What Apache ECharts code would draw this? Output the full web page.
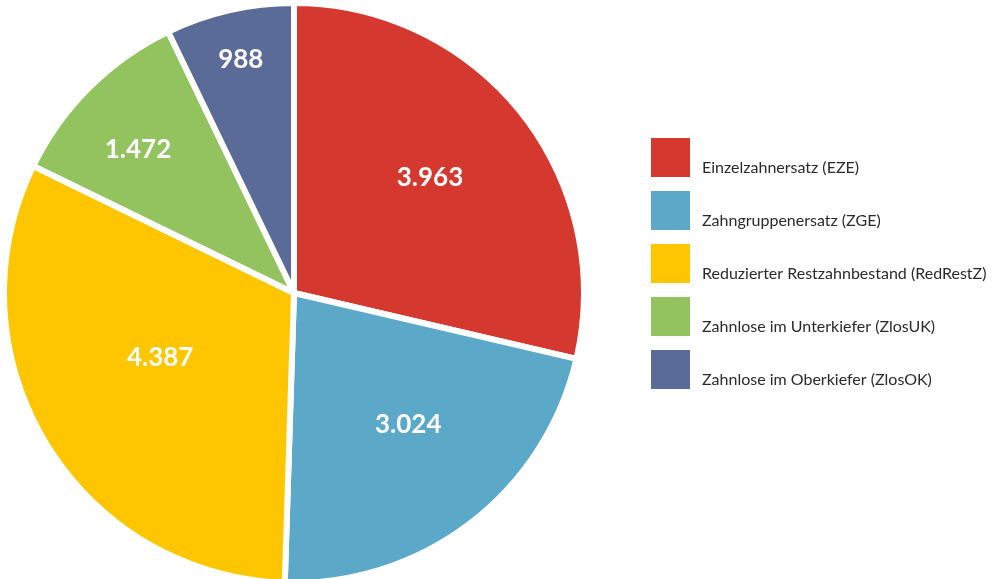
<!DOCTYPE html>
<html>
<head>
<meta charset="utf-8">
<style>
  html, body { margin: 0; padding: 0; background: #ffffff; }
  #chart { width: 997px; height: 579px; }
</style>
<script src="https://cdn.jsdelivr.net/npm/echarts@6/dist/echarts.min.js"></script>
</head>
<body>
<div id="chart"></div>
<script>
// Versorgungsgruppen und Fallzahlen
const categories = [
  'Einzelzahnersatz (EZE)',
  'Zahngruppenersatz (ZGE)',
  'Reduzierter Restzahnbestand (RedRestZ)',
  'Zahnlose im Unterkiefer (ZlosUK)',
  'Zahnlose im Oberkiefer (ZlosOK)'
];
const values = [3963, 3024, 4387, 1472, 988];
const colors = ['#D4382E', '#5BA8C8', '#FDC600', '#92C35F', '#5A6B98'];
// value label placement: share of the pie radius and turn off the bisector (degrees, clockwise)
const labelRadiusShare = [0.616, 0.6, 0.513, 0.73, 0.824];
const labelAngleShift = [-2, -3.5, 5.2, -2.6, 0];

const center = [294, 293];
const radius = 290;

const fmt = v => v.toLocaleString('de-DE');

const chart = echarts.init(document.getElementById('chart'), null, { renderer: 'canvas' });
chart.setOption({
  animation: false,
  color: colors,
  legend: {
    orient: 'vertical',
    left: 646,
    top: 133,
    itemWidth: 39,
    itemHeight: 39,
    itemGap: 14,
    icon: 'rect',
    itemStyle: { borderWidth: 0 },
    formatter: name => '{t|' + name + '}',
    textStyle: {
      rich: {
        t: {
          fontFamily: 'Lato',
          fontSize: 16,
          lineHeight: 16,
          color: '#2a2a2a',
          padding: [20, 0, 0, 7]
        }
      }
    },
    data: categories
  },
  series: [{
    type: 'pie',
    center: center,
    radius: radius,
    startAngle: 90,
    clockwise: true,
    itemStyle: { borderColor: '#ffffff', borderWidth: 6 },
    label: {
      show: true,
      position: 'inside',
      formatter: p => fmt(p.value),
      color: '#ffffff',
      fontFamily: 'Lato',
      fontWeight: 'bold',
      fontSize: 26
    },
    labelLine: { show: false },
    labelLayout: function (params) {
      const r = params.labelRect;
      const dx = r.x + r.width / 2 - center[0];
      const dy = r.y + r.height / 2 - center[1];
      const a = Math.atan2(dy, dx) + labelAngleShift[params.dataIndex] * Math.PI / 180;
      const target = labelRadiusShare[params.dataIndex] * radius;
      return { x: center[0] + Math.cos(a) * target, y: center[1] + Math.sin(a) * target };
    },
    emphasis: { disabled: true },
    data: categories.map((name, i) => ({ name: name, value: values[i] }))
  }]
});
</script>
</body>
</html>
